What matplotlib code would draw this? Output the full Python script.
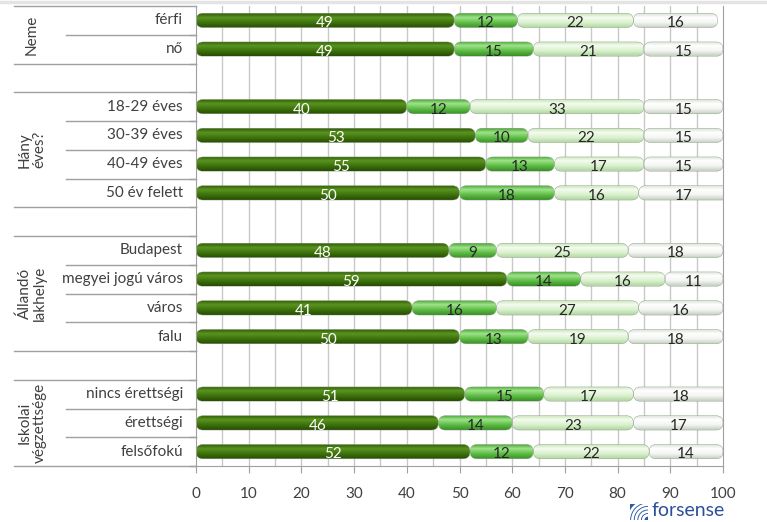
import numpy as np
import matplotlib
matplotlib.use("Agg")
import matplotlib.pyplot as plt
from matplotlib.patches import FancyBboxPatch, Wedge
from matplotlib.colors import LinearSegmentedColormap
import matplotlib.transforms as mtransforms

plt.rcParams['font.family'] = ['Lato', 'DejaVu Sans']

# row labels, top to bottom ("" = empty spacer row)
rows = ["férfi", "nő", "",
        "18-29 éves", "30-39 éves", "40-49 éves", "50 év felett", "",
        "Budapest", "megyei jogú város", "város", "falu", "",
        "nincs érettségi", "érettségi", "felsőfokú"]

# four answer categories per row
s1 = [49, 49, None, 40, 53, 55, 50, None, 48, 59, 41, 50, None, 51, 46, 52]
s2 = [12, 15, None, 12, 10, 13, 18, None, 9, 14, 16, 13, None, 15, 14, 12]
s3 = [22, 21, None, 33, 22, 17, 16, None, 25, 16, 27, 19, None, 17, 23, 22]
s4 = [16, 15, None, 15, 15, 15, 17, None, 18, 11, 16, 18, None, 18, 17, 14]

groups = ["Neme", "Hány\néves?", "Állandó\nlakhelye", "Iskolai\nvégzettsége"]
group_spans = [(0, 1), (3, 6), (8, 11), (13, 15)]

# cylinder-like shading for each series: top edge, highlight, body, bottom edge
shades = [
    ["#2f5a05", "#5a9420", "#3d720c", "#274c03"],
    ["#45a332", "#9fe38a", "#5dbd45", "#3a8f28"],
    ["#c3e3b4", "#f4fcef", "#d9f1cd", "#b0d49f"],
    ["#d8e0d4", "#ffffff", "#f3f6f1", "#c4cec0"],
]
text_colors = ["white", "#262626", "#262626", "#262626"]

fig = plt.figure(figsize=(7.67, 5.22), dpi=100)
ax = fig.add_axes([196 / 767, 1 - 466 / 522, 527 / 767, 460 / 522])

n = len(rows)
ax.set_xlim(0, 100)
ax.set_ylim(n - 0.5, -0.5)

# grid every 5 units
for gx in range(5, 100, 5):
    ax.axvline(gx, color="#c8c8c8", lw=1.0, zorder=0)

bar_h = 0.5
grad = np.linspace(0, 1, 64).reshape(-1, 1)
cmaps = [LinearSegmentedColormap.from_list(
    f"c{i}", list(zip([0.0, 0.3, 0.65, 1.0], sh))) for i, sh in enumerate(shades)]

for i in range(n):
    if s1[i] is None:
        continue
    left = 0
    for k, vals in enumerate([s1, s2, s3, s4]):
        v = vals[i]
        patch = FancyBboxPatch((left, i - bar_h / 2), v, bar_h,
                               boxstyle="round,pad=0,rounding_size=1.35",
                               mutation_aspect=0.185,
                               fc="none", ec="#8a9a85", lw=0.3, zorder=3)
        ax.add_patch(patch)
        im = ax.imshow(grad, extent=(left, left + v, i + bar_h / 2, i - bar_h / 2),
                       aspect="auto", cmap=cmaps[k], zorder=2, interpolation="bilinear")
        im.set_clip_path(patch)
        ax.text(left + v / 2, i + 0.1, str(v), ha="center", va="center",
                fontsize=11, color=text_colors[k], zorder=4)
        left += v

ax.set_xlim(0, 100)
ax.set_ylim(n - 0.5, -0.5)

# axes frame
ax.spines["top"].set_visible(False)
ax.spines["left"].set_color("#a0a0a0")
ax.spines["bottom"].set_color("#a0a0a0")
ax.spines["right"].set_color("#a0a0a0")
ax.set_xticks(range(0, 101, 10))
ax.tick_params(axis="x", length=5, color="#a0a0a0", labelsize=11,
               labelcolor="#404040", pad=10)
ax.set_yticks([])

# left-hand label table
tr = mtransforms.blended_transform_factory(ax.transAxes, ax.transData)
x_outer = (14 - 196) / 527
x_inner = (66 - 196) / 527
line_kw = dict(color="#a0a0a0", lw=1.0, transform=tr, clip_on=False)

ax.plot([x_outer, 0], [-0.5, -0.5], **line_kw)
for (a, b) in group_spans:
    ax.plot([x_outer, 0], [b + 0.5, b + 0.5], **line_kw)
    if a > 0:
        ax.plot([x_outer, 0], [a - 0.5, a - 0.5], **line_kw)
    for r in range(a, b):
        ax.plot([x_inner, 0], [r + 0.5, r + 0.5], **line_kw)
    for r in range(a - 1 if a > 0 else a, b + 1):
        ax.plot([-0.012, 0], [r + 0.5, r + 0.5], **line_kw)

for i, lab in enumerate(rows):
    if lab:
        ax.text(-0.025, i, lab, transform=tr, ha="right", va="center",
                fontsize=11, color="#404040")

for g, (a, b) in zip(groups, group_spans):
    ax.text((32 - 196) / 527, (a + b) / 2, g, transform=tr, rotation=90,
            ha="center", va="center", fontsize=11, color="#404040",
            multialignment="center", linespacing=1.1)

# thin band along the top edge
fig.add_artist(plt.Line2D([0, 1], [0.997, 0.997], color="#e4e4e4", lw=2.5))

# logo in the bottom right corner
lax = fig.add_axes([630 / 767, 2 / 522, 18 / 767, 16 / 522])
lax.set_xlim(0, 1)
lax.set_ylim(0, 0.9)
lax.axis("off")
lax.add_patch(plt.Rectangle((0, 0), 1, 0.9, color="#2b5aa8"))
for r in [0.3, 0.5, 0.7, 0.9, 1.1]:
    lax.add_patch(Wedge((1.0, 0.0), r, 90, 180, width=0.07, color="white"))
fig.text(652 / 767, 1 - 511 / 522, "forsense", fontsize=14, color="#2b4f9a",
         ha="left", va="center")

fig.savefig("out.png", dpi=100)
